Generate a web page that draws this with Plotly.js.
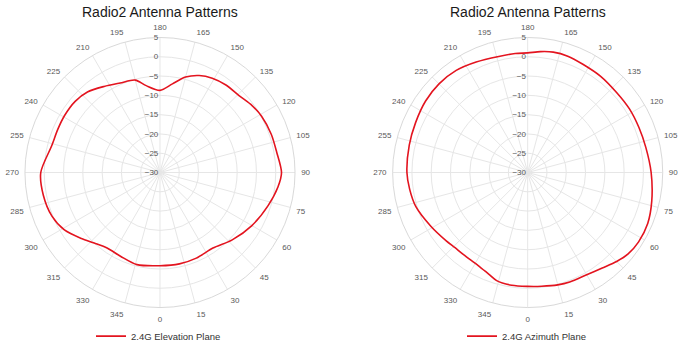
<!DOCTYPE html>
<html>
<head>
<meta charset="utf-8">
<script src="https://cdn.plot.ly/plotly-3.0.1.min.js"></script>
<style>html,body{margin:0;padding:0;background:#fff;}#chart{width:692px;height:351px;}</style>
</head>
<body>
<div id="chart"></div>
<script>
// Angular tick positions and labels (degrees)
const angleTicks = [0,15,30,45,60,75,90,105,120,135,150,165,180,195,210,225,240,255,270,285,300,315,330,345];
const angleLabels = ["0","15","30","45","60","75","90","105","120","135","150","165","180","195","210","225","240","255","270","285","300","315","330","345"];
const radialTicks = [-30,-25,-20,-15,-10,-5,0,5];

// 2.4G Elevation Plane (dB)
const elevTheta = [0,12,23,35,47,60,73,83,90,100,109,119,126,134,143,151,158,165,172,180,189,195,204,213,222,230,239,247,256,270,281,292,301,310,317,325,335,346,360];
const elevR     = [-5.85,-5.8,-5.9,-6.1,-4.4,-2.5,-0.7,0.8,1.5,0.7,0.5,0.1,-0.5,-1.4,-1.6,-2.05,-2.9,-4.4,-6.8,-8.7,-7.2,-5.2,-4.6,-3.4,-1.9,-1.3,-1.2,-1.25,-1.1,0.9,0.8,0.2,-1.1,-3.4,-5.0,-6.1,-6.0,-5.4,-5.85];

// 2.4G Azimuth Plane (dB)
const aziTheta = [0,7,15,21,30,38,45,51,58,67,77,90,102,112,122,132,143,153,161,168,174,180,186,194,205,215,225,235,246,257,270,278,287,299,310,316,322,332,339,344,352,360];
const aziR     = [-0.5,-0.3,0.15,0.4,0.6,1.4,2.6,3.5,3.9,3.8,3.0,2.0,1.3,1.1,1.1,1.0,1.3,1.5,1.9,1.9,1.5,1.0,1.0,1.0,1.6,2.3,2.5,2.3,1.8,1.5,1.3,0.9,0.3,-1.3,-2.45,-2.9,-3.0,-2.7,-1.8,-0.85,-0.5,-0.5];

const titleText = "Radio2 Antenna Patterns";
const elevName = "2.4G Elevation Plane";
const aziName = "2.4G Azimuth Plane";

const font = "Liberation Sans, Arial, sans-serif";
const tickColor = "#595959";
const gridColor = "#e6e6e6";
const red = "#e3141f";

function angular() {
  return {
    rotation: 270, direction: "counterclockwise",
    tickmode: "array", tickvals: angleTicks, ticktext: angleLabels,
    ticks: "outside", ticklen: 4, tickcolor: "rgba(0,0,0,0)",
    showline: true, linecolor: "#d9d9d9", linewidth: 1,
    gridcolor: gridColor, gridwidth: 1,
    tickfont: {family: font, size: 8, color: tickColor}
  };
}
function radial() {
  return {
    range: [-30, 5], tickmode: "array", tickvals: radialTicks,
    angle: 90, side: "counterclockwise", tickangle: 90,
    ticks: "", showline: false, gridcolor: gridColor, gridwidth: 1,
    tickfont: {family: font, size: 8, color: tickColor}
  };
}

const traces = [
  {type: "scatterpolar", mode: "lines", name: elevName, theta: elevTheta, r: elevR,
   line: {color: red, width: 1.6, shape: "spline", smoothing: 0.8}, subplot: "polar", legend: "legend"},
  {type: "scatterpolar", mode: "lines", name: aziName, theta: aziTheta, r: aziR,
   line: {color: red, width: 1.6, shape: "spline", smoothing: 0.8}, subplot: "polar2", legend: "legend2"}
];

const layout = {
  width: 692, height: 351,
  margin: {l: 0, r: 0, t: 0, b: 0},
  paper_bgcolor: "#fff",
  font: {family: font, color: tickColor},
  polar: {domain: {x: [0.0332, 0.4292], y: [0.1111, 0.8917]}, bgcolor: "rgba(0,0,0,0)", angularaxis: angular(), radialaxis: radial()},
  polar2: {domain: {x: [0.5646, 0.9605], y: [0.1111, 0.8917]}, bgcolor: "rgba(0,0,0,0)", angularaxis: angular(), radialaxis: radial()},
  showlegend: true,
  legend: {x: 91/692, xanchor: "left", y: 10/351, yanchor: "middle", orientation: "h",
           font: {family: font, size: 9.5, color: "#333"}, bgcolor: "rgba(0,0,0,0)"},
  legend2: {x: 462/692, xanchor: "left", y: 10/351, yanchor: "middle", orientation: "h",
            font: {family: font, size: 9.5, color: "#333"}, bgcolor: "rgba(0,0,0,0)"},
  annotations: [
    {text: titleText, x: 160/692, y: 1 - 12/351, xref: "paper", yref: "paper", xanchor: "center", yanchor: "middle",
     showarrow: false, font: {family: font, size: 14, color: "#1a1a1a"}},
    {text: titleText, x: 527.7/692, y: 1 - 12/351, xref: "paper", yref: "paper", xanchor: "center", yanchor: "middle",
     showarrow: false, font: {family: font, size: 14, color: "#1a1a1a"}}
  ]
};

Plotly.newPlot("chart", traces, layout, {displayModeBar: false, staticPlot: true});
</script>
</body>
</html>
